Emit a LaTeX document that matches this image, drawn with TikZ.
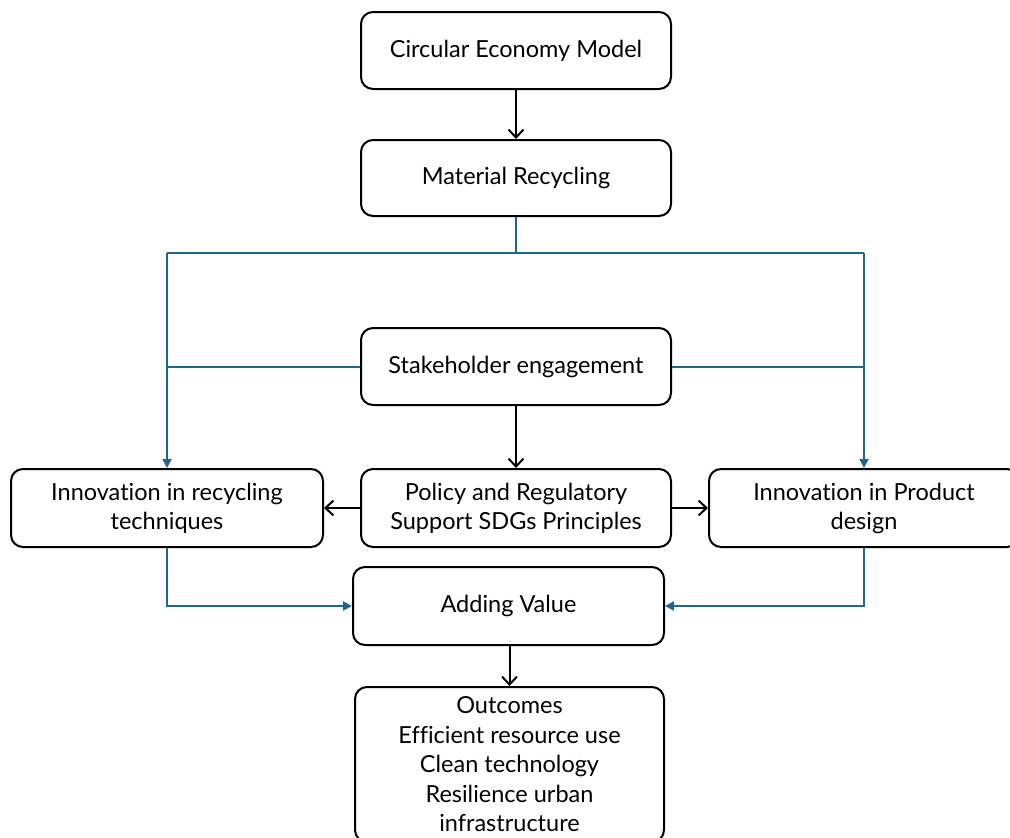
\documentclass[tikz,border=0pt]{standalone}
\usepackage{fontspec}
\setmainfont[Ligatures=NoCommon]{Lato}
\usetikzlibrary{arrows.meta}
\definecolor{linkblue}{RGB}{31,104,140}
\tikzset{
  box/.style={draw=black, line width=2pt, rounded corners=12pt, fill=white, align=center,
    inner sep=0pt, font=\fontsize{23.5}{29}\selectfont},
  blk/.style={draw=black, line width=2pt, -{Straight Barb[length=8pt,width=15pt,line width=2pt]}},
  blu/.style={draw=linkblue, line width=2pt, -{Triangle[length=9pt,width=9pt]}},
  blun/.style={draw=linkblue, line width=2pt},
}
\begin{document}
\begin{tikzpicture}[x=1pt,y=-1pt]
\useasboundingbox (0,0) rectangle (1010,838);
\node[box, minimum width=310pt, minimum height=77pt] (cem) at (516,50.5) {Circular Economy Model};
\node[box, minimum width=310pt, minimum height=76pt] (mr) at (516,178) {Material Recycling};
\node[box, minimum width=310pt, minimum height=77pt] (se) at (516,366.5) {Stakeholder engagement};
\node[box, minimum width=312pt, minimum height=78pt] (ir) at (167,508) {Innovation in recycling\\techniques};
\node[box, minimum width=310pt, minimum height=78pt] (po) at (516,508) {Policy and Regulatory\\Support SDGs Principles};
\node[box, minimum width=310pt, minimum height=78pt] (ip) at (864,508) {Innovation in Product\\design};
\node[box, minimum width=311pt, minimum height=78pt] (av) at (508.5,606) {Adding Value};
\node[box, minimum width=309pt, minimum height=155pt, font=\fontsize{23.5}{29.5}\selectfont] (oc) at (509.5,764.5) {Outcomes\\Efficient resource use\\Clean technology\\Resilience urban\\infrastructure};
\coordinate (jl) at (167,253);
\coordinate (jr) at (864,253);
\coordinate (ml) at (167,366.5);
\coordinate (mrr) at (864,366.5);
% black arrows
\draw[blk] (cem) -- (mr);
\draw[blk] (se) -- (po);
\draw[blk] (po) -- (ir);
\draw[blk] (po) -- (ip);
\draw[blk] (av.south -| oc.north) -- (oc.north);
% blue connectors
\draw[blun] (mr.south) |- (jl);
\draw[blun] (mr.south) |- (jr);
\draw[blu] (jl) -- (ir.north);
\draw[blu] (jr) -- (ip.north);
\draw[blun] (se.west) -- (ml);
\draw[blun] (se.east) -- (mrr);
\draw[blu] (ir.south) |- (av.west);
\draw[blu] (ip.south) |- (av.east);
\end{tikzpicture}
\end{document}
